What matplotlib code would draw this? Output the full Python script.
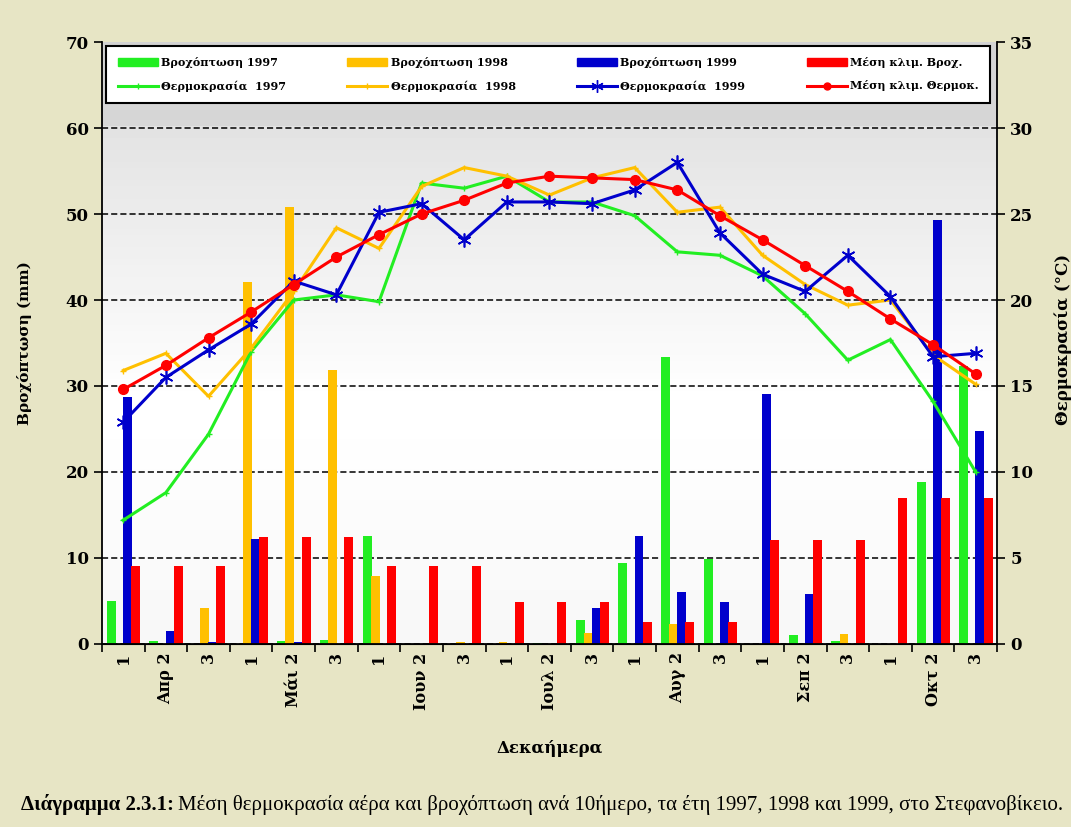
import numpy as np
import matplotlib.pyplot as plt
from matplotlib.patches import Patch
from matplotlib.lines import Line2D

months = ['Απρ', 'Μάι', 'Ιουν', 'Ιουλ', 'Αυγ', 'Σεπ', 'Οκτ']
dekades = ['1', '2', '3']

rain_1997 = [5.0, 0.3, 0, 0, 0.3, 0.5, 12.6, 0, 0, 0, 0.1, 2.8, 9.4, 33.4, 9.9, 0, 1.1, 0.3, 0, 18.8, 32.3]
rain_1998 = [0, 0, 4.2, 42.1, 50.8, 31.9, 7.9, 0, 0.2, 0.2, 0, 1.3, 0, 2.3, 0, 0, 0, 1.2, 0, 0, 0]
rain_1999 = [28.7, 1.5, 0.2, 12.2, 0.2, 0, 0, 0, 0, 0, 0, 4.2, 12.5, 6.1, 4.9, 29.1, 5.8, 0, 0, 49.3, 24.8]
rain_mean = [9.1, 9.1, 9.1, 12.4, 12.4, 12.4, 9.1, 9.1, 9.1, 4.9, 4.9, 4.9,
             2.6, 2.6, 2.6, 12.1, 12.1, 12.1, 17.0, 17.0, 17.0]

temp_1997 = [7.2, 8.8, 12.2, 17.0, 20.0, 20.3, 19.9, 26.8, 26.5, 27.2, 25.7, 25.7,
             24.9, 22.8, 22.6, 21.4, 19.2, 16.5, 17.7, 14.1, 10.0]
temp_1998 = [15.9, 16.9, 14.4, 17.2, 20.5, 24.2, 23.0, 26.6, 27.7, 27.2, 26.1, 27.1,
             27.7, 25.1, 25.4, 22.6, 20.9, 19.7, 20.0, 16.8, 15.1]
temp_1999 = [12.9, 15.5, 17.1, 18.6, 21.1, 20.3, 25.1, 25.6, 23.5, 25.7, 25.7, 25.6,
             26.4, 28.0, 23.9, 21.5, 20.5, 22.6, 20.2, 16.7, 16.9]
temp_mean = [14.8, 16.2, 17.8, 19.3, 20.9, 22.5, 23.8, 25.0, 25.8, 26.8, 27.2, 27.1,
             27.0, 26.4, 24.9, 23.5, 22.0, 20.5, 18.9, 17.4, 15.7]

c_green = '#22ee22'
c_yellow = '#ffc000'
c_blue = '#0000cc'
c_red = '#ff0000'

serif = 'DejaVu Serif'

x_labels = []
for m in months:
    for d in dekades:
        x_labels.append(m + ' ' + d if d == '2' else d)

x = np.arange(len(x_labels))

fig = plt.figure(figsize=(10.71, 8.27), dpi=100, facecolor='#e7e5c5')
ax = fig.add_axes([0.0952, 0.2213, 0.8357, 0.7279])
ax.set_facecolor('none')

# plot area background: grey at the top fading to white
grad = np.concatenate([np.linspace(0.83, 0.84, 14), np.linspace(0.89, 1.0, 46), np.linspace(1.0, 0.97, 40)])
ax.imshow(grad[:, None], aspect='auto', cmap='gray', vmin=0, vmax=1,
          extent=(-0.5, 20.5, 0, 70), zorder=-2, origin='upper')

w = 0.21
offs = [-0.28, -0.09, 0.1, 0.29]
ax.bar(x + offs[0], rain_1997, w, color=c_green, zorder=2)
ax.bar(x + offs[1], rain_1998, w, color=c_yellow, zorder=2)
ax.bar(x + offs[2], rain_1999, w, color=c_blue, zorder=2)
ax.bar(x + offs[3], rain_mean, w, color=c_red, zorder=2)

ax.set_xlim(-0.5, 20.5)
ax.set_ylim(0, 70)
ax.set_yticks(range(0, 71, 10))
ax.set_axisbelow(True)
ax.yaxis.grid(True, color='black', linestyle=(0, (4, 2)), linewidth=1.1)
ax.get_ygridlines()[-1].set_visible(False)

ax.set_xticks(x)
ax.set_xticklabels(x_labels, rotation=90, fontsize=11.5, fontweight='bold', family=serif)
ax.tick_params(axis='x', which='major', length=0, pad=6)
ax.set_xticks(np.arange(-0.5, 21, 1), minor=True)
ax.tick_params(axis='x', which='minor', length=6, width=1.2, direction='out')
ax.tick_params(axis='y', length=6, width=1.2, direction='out', labelsize=12)
for t in ax.get_yticklabels():
    t.set_fontweight('bold')
    t.set_family(serif)
ax.spines['top'].set_visible(False)
ax.spines['right'].set_visible(False)
ax.spines['left'].set_linewidth(1.3)
ax.spines['bottom'].set_linewidth(1.3)

ax.set_ylabel('Βροχόπτωση (mm)', fontsize=11, fontweight='bold', family=serif, labelpad=24)
ax.set_xlabel('Δεκαήμερα', fontsize=12, fontweight='bold', family=serif, labelpad=22)

ax2 = ax.twinx()
ax2.set_ylim(0, 35)
ax2.set_yticks(range(0, 36, 5))
ax2.tick_params(axis='y', length=6, width=1.2, direction='out', labelsize=12)
for t in ax2.get_yticklabels():
    t.set_fontweight('bold')
    t.set_family(serif)
ax2.spines['top'].set_visible(False)
ax2.spines['left'].set_visible(False)
ax2.spines['right'].set_linewidth(1.3)

ax2.plot(x, temp_1997, color=c_green, lw=2.2, marker='+', ms=4)
ax2.plot(x, temp_1998, color=c_yellow, lw=2.2, marker='+', ms=4)
ax2.plot(x, temp_1999, color=c_blue, lw=2.2, marker=(6, 2, 0), ms=10, mew=1.2)
ax2.plot(x, temp_mean, color=c_red, lw=2.2, marker='o', ms=7)

fig.text(1063 / 1071, 0.589, 'Θερμοκρασία (°C)', rotation=90, ha='center', va='center',
         fontsize=12, fontweight='bold', family=serif)

handles = [
    Patch(color=c_green), Line2D([], [], color=c_green, lw=2.2, marker='+', ms=4),
    Patch(color=c_yellow), Line2D([], [], color=c_yellow, lw=2.2, marker='+', ms=4),
    Patch(color=c_blue), Line2D([], [], color=c_blue, lw=2.2, marker=(6, 2, 0), ms=9),
    Patch(color=c_red), Line2D([], [], color=c_red, lw=2.2, marker='o', ms=5),
]
labels = [
    'Βροχόπτωση 1997', 'Θερμοκρασία  1997',
    'Βροχόπτωση 1998', 'Θερμοκρασία  1998',
    'Βροχόπτωση 1999', 'Θερμοκρασία  1999',
    'Μέση κλιμ. Βροχ.', 'Μέση κλιμ. Θερμοκ.',
]
leg = ax2.legend(handles, labels, ncol=4, loc='lower left', mode='expand',
                 bbox_to_anchor=(0.005, 0.899, 0.987, 0.093), borderaxespad=0,
                 prop={'family': serif, 'weight': 'bold', 'size': 8},
                 handlelength=3.6, handletextpad=0.3, fancybox=False,
                 framealpha=1, edgecolor='black', labelspacing=1.1, borderpad=1.0)
leg.get_frame().set_linewidth(1.5)

# caption: bold prefix then normal text
cap1 = fig.text(0.02, 0.021, 'Διάγραμμα 2.3.1:', fontsize=15, fontweight='bold',
                family='Liberation Serif', va='baseline')
fig.canvas.draw()
bb = cap1.get_window_extent()
fig.text(bb.x1 / fig.bbox.width + 0.003, 0.021,
         'Μέση θερμοκρασία αέρα και βροχόπτωση ανά 10ήμερο, τα έτη 1997, 1998 και 1999, στο Στεφανοβίκειο.',
         fontsize=15, family='Liberation Serif', va='baseline')

fig.savefig('out.png', dpi=100, facecolor=fig.get_facecolor())
